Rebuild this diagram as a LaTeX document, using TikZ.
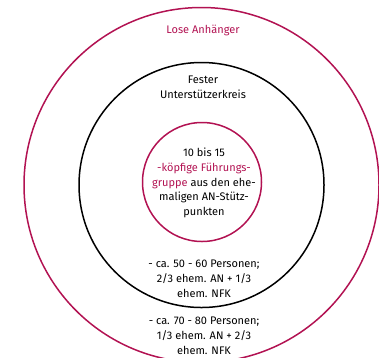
\documentclass[tikz,border=0pt]{standalone}
\usepackage{fontspec}
\setmainfont{Fira Sans}
\definecolor{brand}{RGB}{178,18,82}
\begin{document}
\begin{tikzpicture}[x=1pt,y=-1pt,
  ring/.style={circle,draw,line width=1.5pt,inner sep=0pt},
  lbl/.style={align=center,inner sep=0pt,font=\fontsize{11}{14.8}\selectfont}]
\useasboundingbox (0,0) rectangle (379,357);
\clip (0,0) rectangle (379,357);
\node[ring,draw=brand,minimum size=355pt] (outer) at (201.5,185) {};
\node[ring,draw=black,minimum size=245pt] (middle) at (201.5,185) {};
\node[ring,draw=brand,minimum size=119pt] (inner) at (202,182) {};
\node[lbl,text=brand] (lose) at (203,30) {Lose Anhänger};
\node[lbl] (fester) at (203,87) {Fester\\Unterstützerkreis};
\node[lbl] (kern) at (204,183) {10 bis 15\\\textcolor{brand}{-köpfige Führungs-}\\\textcolor{brand}{gruppe} aus den ehe-\\maligen AN-Stütz-\\punkten};
\node[lbl] (mid) at (204,279) {- ca. 50 - 60 Personen;\\2/3 ehem. AN + 1/3\\ehem. NFK};
\node[lbl] (out) at (204,336) {- ca. 70 - 80 Personen;\\1/3 ehem. AN + 2/3\\ehem. NFK};
\end{tikzpicture}
\end{document}
